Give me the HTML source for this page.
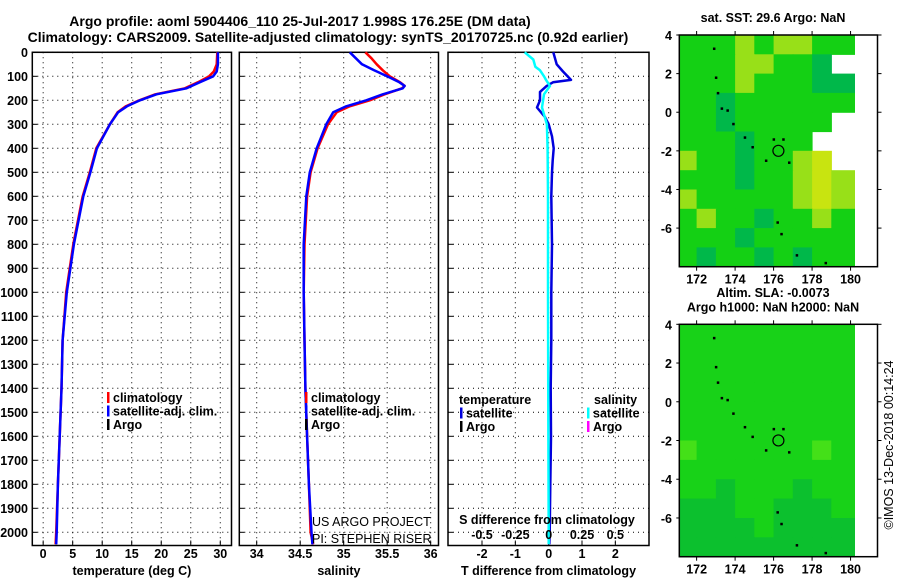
<!DOCTYPE html>
<html><head><meta charset="utf-8"><style>
html,body{margin:0;padding:0;background:#fff;}
svg{display:block;font-family:"Liberation Sans",sans-serif;}
.b{font-weight:bold;font-size:12.5px;}
.n{font-weight:normal;font-size:12.5px;}
.t{font-weight:bold;font-size:14px;}
</style></head><body>
<svg id="c" width="900" height="580" viewBox="0 0 900 580">
<text class="t" x="300" y="26" text-anchor="middle">Argo profile: aoml 5904406_110 25-Jul-2017 1.998S 176.25E (DM data)</text>
<text class="t" x="328" y="42" text-anchor="middle">Climatology: CARS2009. Satellite-adjusted climatology: synTS_20170725.nc (0.92d earlier)</text>
<g id="plots"></g>
</svg>
<script>
// ---- data ----
const depthTicks=[0,100,200,300,400,500,600,700,800,900,1000,1100,1200,1300,1400,1500,1600,1700,1800,1900,2000];
const tempTicks=[0,5,10,15,20,25,30];
const salTicks=[34,34.5,35,35.5,36];
const tdiffTicks=[-2,-1,0,1,2];
const sdiffTicks=[-0.5,-0.25,0,0.25,0.5];
const tDepths=[0,50,80,100,125,150,175,200,225,250,300,400,500,600,800,1000,1200,1400,1600,1800,2000,2050];
const tempClim=[29.5,29.4,28.9,28.1,26.2,24.0,19.0,16.3,14.0,12.6,11.3,9.0,7.9,6.7,5.1,3.9,3.3,3.1,2.8,2.5,2.2,2.1];
const tempSat=[29.6,29.6,29.4,28.8,26.5,24.3,19.2,16.4,14.2,12.7,11.3,9.1,8.0,6.8,5.2,4.0,3.3,3.1,2.8,2.5,2.3,2.2];
const sDepths=[0,25,50,75,100,125,140,150,175,200,225,250,300,400,500,600,800,1000,1200,1400,1600,1800,2000,2050];
const salClim=[35.25,35.32,35.38,35.45,35.53,35.65,35.7,35.67,35.47,35.3,35.07,34.92,34.82,34.7,34.62,34.58,34.55,34.54,34.55,34.56,34.58,34.6,34.62,34.65];
const salSat=[35.07,35.14,35.21,35.35,35.5,35.64,35.7,35.68,35.45,35.26,35.03,34.88,34.8,34.69,34.61,34.57,34.54,34.54,34.55,34.56,34.58,34.6,34.63,34.64];
const tdDepths=[0,50,80,115,125,140,165,200,230,270,300,350,400,450,500,600,800,1000,1200,1400,1600,1800,2000,2050];
const tDiff=[0.14,0.24,0.43,0.67,0.13,-0.06,-0.26,-0.26,-0.35,-0.11,0.0,0.1,0.15,0.12,0.1,0.08,0.1,0.08,0.08,0.06,0.07,0.05,0.03,0.02];
const sdDepths=[0,30,60,75,100,115,140,175,230,300,400,600,1000,1500,2000,2050];
const sDiff=[-0.18,-0.115,-0.1,-0.065,-0.035,-0.02,0.01,-0.035,-0.05,-0.013,-0.008,-0.005,-0.005,-0.003,0,0];
const lonTicks=[172,174,176,178,180];
const latTicks=[4,2,0,-2,-4,-6];
// SST map levels per 1-degree cell, rows lat 4..-8, cols lon 171..180 (-1 = no data)
const sstGrid=[
[1,1,1,2,1,2,2,1,1],
[1,1,1,2,2,1,1,0,-1],
[1,1,1,2,1,1,1,0,0],
[1,1,0,1,1,1,1,1,1],
[1,1,0,1,1,1,1,1,-1],
[1,1,1,0,1,1,1,-1,-1],
[2,1,1,0,1,1,2,3,-1],
[1,1,1,0,1,1,2,3,2],
[2,1,1,1,1,1,2,3,2],
[1,2,1,1,0,1,1,2,1],
[1,1,1,0,1,1,1,1,1],
[1,0,1,1,0,1,0,1,1]];
const slaGrid=[
[1,1,1,1,1,1,1,1,1],
[1,1,1,1,1,1,1,1,1],
[1,1,1,1,1,1,1,1,1],
[1,1,1,1,1,1,1,1,1],
[1,1,1,1,1,1,1,1,1],
[1,1,1,1,1,1,1,1,1],
[2,1,1,1,1,1,1,2,1],
[1,1,1,1,1,1,1,1,1],
[1,1,0,1,1,1,0,1,1],
[0,0,0,1,1,0,0,0,1],
[0,0,0,0,1,0,0,0,0],
[0,0,0,0,0,0,0,0,0]];
const trackLon=[172.9,173.0,173.1,173.3,173.6,173.9,174.5,174.9,175.6,176.0,176.5,176.8,176.2,176.4,177.2,178.7];
const trackLat=[3.3,1.8,1.0,0.2,0.1,-0.6,-1.3,-1.8,-2.5,-1.4,-1.4,-2.6,-5.7,-6.3,-7.4,-7.8];
const argoLon=[176.25];
const argoLat=[-1.998];

const NS="http://www.w3.org/2000/svg";
const root=document.getElementById('plots');
function el(tag,attrs,parent){const e=document.createElementNS(NS,tag);for(const k in attrs)e.setAttribute(k,attrs[k]);(parent||root).appendChild(e);return e;}
function txt(s,x,y,anchor,cls,parent){const e=el('text',{x:x,y:y,'text-anchor':anchor,'class':cls||'b'},parent);e.textContent=s;return e;}
const yTop=52.3, pxPerM=0.24;
function yD(d){return yTop+d*pxPerM;}
const yBot=545.5;

function panel(name,x0,x1,xmin,xmax,ticks,tickFmt,title,leftLabels){
  const g=el('g',{});
  
  
  const sx=v=>x0+(v-xmin)/(xmax-xmin)*(x1-x0);
  depthTicks.forEach(d=>{
    const l=el('line',{x1:x0,x2:x1,y1:yD(d),y2:yD(d),stroke:'#000','stroke-width':1,'stroke-dasharray':'1,4'},g);
    
    
    el('line',{x1:x0,x2:x0+5,y1:yD(d),y2:yD(d),stroke:'#000'},g);
    if(leftLabels){const t=txt(String(d),28,yD(d)+4.5,'end','b',g);
      
      }
  });
  ticks.forEach(v=>{
    const l=el('line',{x1:sx(v),x2:sx(v),y1:yTop,y2:yBot,stroke:'#000','stroke-width':1,'stroke-dasharray':'1,4'},g);
    
    
    el('line',{x1:sx(v),x2:sx(v),y1:yBot,y2:yBot-5,stroke:'#000'},g);
    const t=txt(tickFmt(v),sx(v),558,'middle','b',g);
    
    
  });
  const f=el('rect',{x:x0,y:yTop,width:x1-x0,height:yBot-yTop,fill:'none',stroke:'#000','stroke-width':1.5},g);
  
  
  const tt=txt(title,(x0+x1)/2,575,'middle','b',g);
  
  
  return {g,sx};
}
function line(p,vals,depths,color,w,name,scale){
  const pts=vals.map((v,i)=>p.sx(v*(scale||1)).toFixed(1)+','+yD(depths[i]).toFixed(1)).join(' ');
  const l=el('polyline',{points:pts,fill:'none',stroke:color,'stroke-width':w,'stroke-linejoin':'round'},p.g);
  
  
}
function legend(g,x,y,items){
  items.forEach((it,i)=>{
    el('rect',{x:x,y:y+i*13.5-10,width:2.5,height:11,fill:it[1]},g);
    const t=txt(it[0],x+6,y+i*13.5,'start','b',g);
    
    
  });
}
// Panel 1 temperature
const p1=panel('temperature-panel',32.3,231.5,-1.84,31.9,tempTicks,v=>String(v),'temperature (deg C)',true);
line(p1,tempClim,tDepths,'#ff0000',2.5,'temp-climatology-line');
line(p1,tempSat,tDepths,'#0000ff',2.5,'temp-satellite-line');
legend(p1.g,107,402,[['climatology','#ff0000'],['satellite-adj. clim.','#0000ff'],['Argo','#000']]);
// Panel 2 salinity
const p2=panel('salinity-panel',239.3,438.5,33.8,36.09,salTicks,v=>String(v),'salinity',false);
line(p2,salClim,sDepths,'#ff0000',2.5,'sal-climatology-line');
line(p2,salSat,sDepths,'#0000ff',2.5,'sal-satellite-line');
legend(p2.g,305,402,[['climatology','#ff0000'],['satellite-adj. clim.','#0000ff'],['Argo','#000']]);
const cp=el('clipPath',{id:'cp2'},p2.g);el('rect',{x:239,y:50,width:199,height:500},cp);
const pg=el('g',{'clip-path':'url(#cp2)'},p2.g);
const u1=txt('US ARGO PROJECT',312,526,'start','n',pg);


const u2=txt('PI: STEPHEN RISER',312,543,'start','n',pg);


// Panel 3 differences
const p3=panel('difference-panel',448,649,-3.02,3.01,tdiffTicks,v=>String(v),'T difference from climatology',false);
line(p3,tDiff,tdDepths,'#0000dd',2.5,'tdiff-satellite-line');
line(p3,sDiff,sdDepths,'#00ffff',2.5,'sdiff-satellite-line',4);
const hT=txt('temperature',459,404,'start','b',p3.g);
const hS=txt('salinity',594,404,'start','b',p3.g);
legend(p3.g,460,417.5,[['satellite','#0000dd'],['Argo','#000']]);
legend(p3.g,587,417.5,[['satellite','#00ffff'],['Argo','#ff00ff']]);
const sl=txt('S difference from climatology',547,524,'middle','b',p3.g);
sdiffTicks.forEach(v=>{const t=txt(String(v),p3.sx(v*4),539,'middle','b',p3.g);
  
  });

// Maps
function map(name,x0,x1,y0,y1,grid,colors,titles){
  const g=el('g',{});
  
  
  const lonMin=171.1,lonMax=181.4,latMax=4,latMin=-8;
  const sx=v=>x0+(v-lonMin)/(lonMax-lonMin)*(x1-x0);
  const sy=v=>y0+(latMax-v)/(latMax-latMin)*(y1-y0);
  grid.forEach((row,r)=>row.forEach((lv,c)=>{
    if(lv<0||!colors[lv])return;
    const la=4-r;
    const xa=sx(c===0?171.1:171+c), xb=sx(c===8?180.2:172+c);
    const cell=el('rect',{x:xa.toFixed(1),y:sy(la).toFixed(1),width:(xb-xa+0.6).toFixed(1),height:(sy(la-1)-sy(la)+0.6).toFixed(1),fill:colors[lv]},g);
    
    
  }));
  trackLon.forEach((lo,i)=>{const d=el('rect',{x:sx(lo)-1,y:sy(trackLat[i])-1,width:2.5,height:2.5,fill:'#000'},g);
    
    });
  argoLon.forEach((lo,i)=>{const c=el('circle',{cx:sx(lo),cy:sy(argoLat[i]),r:5.5,fill:'none',stroke:'#000','stroke-width':1.2},g);
    
    });
  el('rect',{x:x0,y:y0,width:x1-x0,height:y1-y0,fill:'none',stroke:'#000','stroke-width':1.5},g);
  lonTicks.forEach(v=>{el('line',{x1:sx(v),x2:sx(v),y1:y0,y2:y0-4,stroke:'#000'},g);el('line',{x1:sx(v),x2:sx(v),y1:y1,y2:y1+4,stroke:'#000'},g);
    const t=txt(String(v),sx(v),y1+17,'middle','b',g);});
  latTicks.forEach(v=>{el('line',{x1:x1,x2:x1+4,y1:sy(v),y2:sy(v),stroke:'#000'},g);el('line',{x1:x0,x2:x0-3,y1:sy(v),y2:sy(v),stroke:'#000'},g);
    const t=txt(String(v),672,sy(v)+5,'end','b',g);});
  titles.forEach((s,i)=>{const t=txt(s,773,y0-13-(titles.length-1-i)*14.5,'middle','b',g);
    });
}
map('sst-map',679.3,877.5,35,266.7,sstGrid,['#00b84a','#14d014','#98e018','#c8e410'],['sat. SST: 29.6 Argo: NaN']);
map('sla-map',679.3,877.5,324.3,556.7,slaGrid,['#0cc02e','#18d218','#44e018'],['Altim. SLA: -0.0073','Argo h1000: NaN h2000: NaN']);
const im=el('text',{x:0,y:0,transform:'translate(893,445) rotate(-90)','text-anchor':'middle','style':'font-size:12.5px'});
im.textContent='©IMOS 13-Dec-2018 00:14:24';


</script>
</body></html>
